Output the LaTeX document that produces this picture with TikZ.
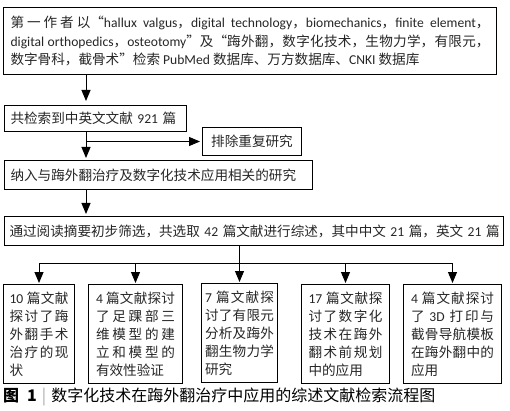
\documentclass[tikz,border=0pt]{standalone}
\usepackage{fontspec}
\setmainfont{Noto Sans CJK SC}
\newfontfamily\lat{Carlito}
\usepackage{xcolor}
\usepackage{tikz}
\usetikzlibrary{arrows.meta}
\XeTeXlinebreaklocale "zh"
\XeTeXlinebreakskip=0pt plus 1.5pt minus 0.3pt
\newcommand\en[1]{{\lat #1}}
\newcommand\lqq{\makebox[1em][r]{“}}
\newcommand\rqq{\makebox[1em][l]{”}}

\begin{document}
\begin{tikzpicture}[x=1pt, y=-1pt,
  box/.style={draw, line width=1pt, text=black!85, anchor=north west, inner xsep=6pt, inner ysep=2pt, font=\fontsize{13.6}{18}\selectfont},
  item/.style={box, inner xsep=3pt, minimum height=99pt, align=justify},
  arr/.style={-{Triangle[length=11pt,width=9pt]}, line width=1pt, shorten >=2pt}]
\useasboundingbox (0,0) rectangle (510,411);
\coordinate (spine) at (86,0);
\node[box, inner xsep=7pt, text width=479pt, minimum height=67pt, align=justify, font=\fontsize{13.6}{18.5}\selectfont] (search) at (3,7) {第一作者以\lqq\en{hallux valgus}，\en{digital technology}，\en{biomechanics}，\en{finite element}，\linebreak \en{digital orthopedics}，\en{osteotomy}\rqq 及\lqq 踇外翻，数字化技术，生物力学，有限元，\linebreak 数字骨科，截骨术\rqq 检索 \en{PubMed} 数据库、万方数据库、\en{CNKI} 数据库};
\node[box, text width=170pt, minimum height=26pt, align=left] (found) at (4,105) {\mbox{共检索到中英文文献 \en{921} 篇}};
\node[box, minimum width=99pt, minimum height=28pt] (excl) at (202,127) {排除重复研究};
\node[box, text width=296pt, minimum height=29pt, align=left] (incl) at (4,160) {\mbox{纳入与踇外翻治疗及数字化技术应用相关的研究}};
\node[box, inner xsep=5pt, text width=489pt, minimum height=29pt, align=left] (screen) at (4,216) {\mbox{通过阅读摘要初步筛选，共选取 \en{42} 篇文献进行综述，其中中文 \en{21} 篇，英文 \en{21} 篇}};
\node[item, minimum width=71pt, text width=59pt] (b1) at (3,284) {\en{10} 篇文献\linebreak 探讨了踇\linebreak 外翻手术\linebreak 治疗的现\linebreak 状};
\node[item, minimum width=94pt, text width=79pt] (b2) at (88,284) {\en{4} 篇文献探讨\linebreak 了足踝部三\linebreak 维模型的建\linebreak 立和模型的\linebreak 有效性验证};
\node[item, minimum width=76pt, text width=69pt] (b3) at (201,283) {\en{7} 篇文献探\linebreak 讨了有限元\linebreak 分析及踇外\linebreak 翻生物力学\linebreak 研究};
\node[item, minimum width=88pt, text width=74pt] (b4) at (301,284) {\en{17} 篇文献探\linebreak 讨了数字化\linebreak 技术在踇外\linebreak 翻术前规划\linebreak 中的应用};
\node[item, minimum width=98pt, text width=83pt] (b5) at (403,284) {\en{4} 篇文献探讨\linebreak 了 \en{3D} 打印与\linebreak 截骨导航模板\linebreak 在踇外翻中的\linebreak 应用};
\node[anchor=west, inner sep=0pt, font=\fontsize{16}{18}\selectfont] (cap) at (3,397) {\textbf{图\hspace{8pt}1}\hspace{5pt}{\color{black!35}|}\hspace{5pt}数字化技术在踇外翻治疗中应用的综述文献检索流程图};
\coordinate (split) at (b3.north |- 0,263);
\draw[arr, shorten >=4pt] (search.south -| spine) -- (found.north -| spine);
\draw[arr] (found.south -| spine) -- (incl.north -| spine);
\draw[arr] (excl.west -| spine) -- (excl.west);
\draw[arr] (incl.south -| spine) -- (screen.north -| spine);
\draw[line width=1pt] (screen.south -| split) -- (split);
\draw[line width=1pt] (b1.north |- split) -- (b5.north |- split);
\foreach \b in {b1,b2,b3,b4,b5}
  \draw[arr, shorten >=1pt] (\b.north |- split) -- (\b.north);
\end{tikzpicture}
\end{document}
